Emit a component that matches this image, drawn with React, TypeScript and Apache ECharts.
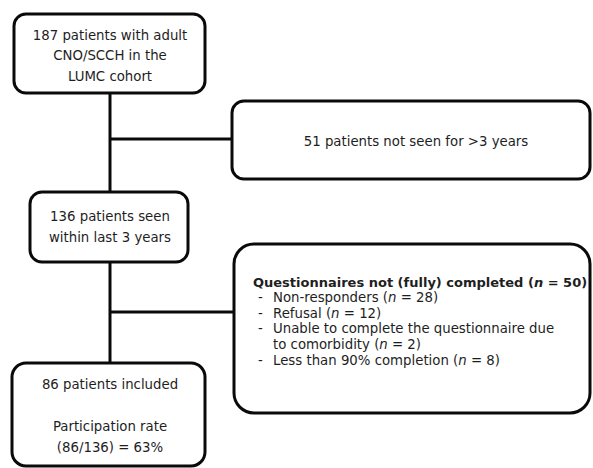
import React, { useEffect, useRef } from "react";
import * as echarts from "echarts";

// ---- data ----
const cohortTotal = 187;
const notSeenCount = 51;
const seenCount = 136;
const incompleteCount = 50;
const reasonLabels = [
  "Non-responders",
  "Refusal",
  "Unable to complete the questionnaire due\nto comorbidity",
  "Less than 90% completion",
];
const reasonCounts = [28, 12, 2, 8];
const includedCount = 86;
const participationRate = 63;

const FAMILY = "'DejaVu Sans', sans-serif";
const FS = 13.3;
const FS_HEAD = 13;
const TEXT_COLOR = "#1e1e1e";
const LINE = "#0a0a0a";
const LW = 3;

function box(x1: number, y1: number, x2: number, y2: number, r: number) {
  return {
    type: "rect",
    shape: { x: x1, y: y1, width: x2 - x1, height: y2 - y1, r },
    style: { fill: "#fff", stroke: LINE, lineWidth: LW },
    z: 2,
  };
}
function line(x1: number, y1: number, x2: number, y2: number) {
  return {
    type: "line",
    shape: { x1, y1, x2, y2 },
    style: { stroke: LINE, lineWidth: LW },
    z: 1,
  };
}
function ctext(text: string, x: number, y: number, lh: number) {
  return {
    type: "text",
    x,
    y,
    z: 3,
    style: {
      text,
      fill: TEXT_COLOR,
      fontFamily: FAMILY,
      fontSize: FS,
      lineHeight: lh,
      align: "center",
      verticalAlign: "middle",
    },
  };
}

const LH = 15.6;
function rs(style: string, weight: string, size: number, extra: any = {}) {
  return {
    fontFamily: FAMILY,
    fontSize: size,
    fontStyle: style,
    fontWeight: weight,
    fill: TEXT_COLOR,
    lineHeight: LH,
    ...extra,
  };
}
const richBase = {
  r: rs("normal", "normal", FS),
  i: rs("italic", "normal", FS),
  b: rs("normal", "bold", FS_HEAD),
  bi: rs("italic", "bold", FS_HEAD),
  d: rs("normal", "normal", FS, { width: 15 }),
};

function ltext(text: string, x: number, y: number) {
  return {
    type: "text",
    x,
    y,
    z: 3,
    style: {
      text,
      fill: TEXT_COLOR,
      fontFamily: FAMILY,
      fontSize: FS,
      align: "left",
      verticalAlign: "middle",
      lineHeight: LH,
      rich: richBase,
    },
  };
}

export default function App() {
  const ref = useRef<HTMLDivElement>(null);
  useEffect(() => {
    if (!ref.current) return;
    const chart = echarts.init(ref.current, undefined, { renderer: "svg" });
    const elements: any[] = [];
    // connectors
    elements.push(line(110, 93, 110, 192));
    elements.push(line(110, 139, 232, 139));
    elements.push(line(110, 262, 110, 363));
    elements.push(line(110, 312, 234, 312));
    // boxes
    elements.push(box(14, 14, 205, 93, 12));
    elements.push(box(232, 101, 590, 179, 12));
    elements.push(box(30, 192, 188, 262, 12));
    elements.push(box(234, 244, 590, 413, 20));
    elements.push(box(12, 363, 205, 466, 14));
    // texts
    elements.push(
      ctext(`${cohortTotal} patients with adult\nCNO/SCCH in the\nLUMC cohort`, 110, 55.5, 20.5)
    );
    elements.push(ctext(`${notSeenCount} patients not seen for >3 years`, 416, 141, 20));
    elements.push(ctext(`${seenCount} patients seen\nwithin last 3 years`, 110, 227, 20.5));
    elements.push(
      ctext(
        `${includedCount} patients included\n\nParticipation rate\n(${includedCount}/${seenCount}) = ${participationRate}%`,
        110,
        416,
        20.7
      )
    );
    // questionnaire box
    const top = 282;
    elements.push(
      ltext(`{b|Questionnaires not (fully) completed (}{bi|n}{b| = ${incompleteCount})}`, 253, top)
    );
    let row = 1;
    reasonLabels.forEach((lab, k) => {
      const parts = lab.split("\n");
      const last = parts.length - 1;
      parts.forEach((p, j) => {
        const body =
          j === last ? `{r|${p} (}{i|n}{r| = ${reasonCounts[k]})}` : `{r|${p}}`;
        if (j === 0) {
          elements.push(ltext(`{d|-}${body}`, 258, top + row * LH));
        } else {
          elements.push(ltext(body, 273, top + row * LH));
        }
        row += 1;
      });
    });

    chart.setOption({
      animation: false,
      backgroundColor: "#ffffff",
      graphic: { elements },
    });
    return () => chart.dispose();
  }, []);
  return (
    <div
      ref={ref}
      style={{ position: "fixed", left: 0, top: 0, width: 593, height: 468 }}
    />
  );
}
